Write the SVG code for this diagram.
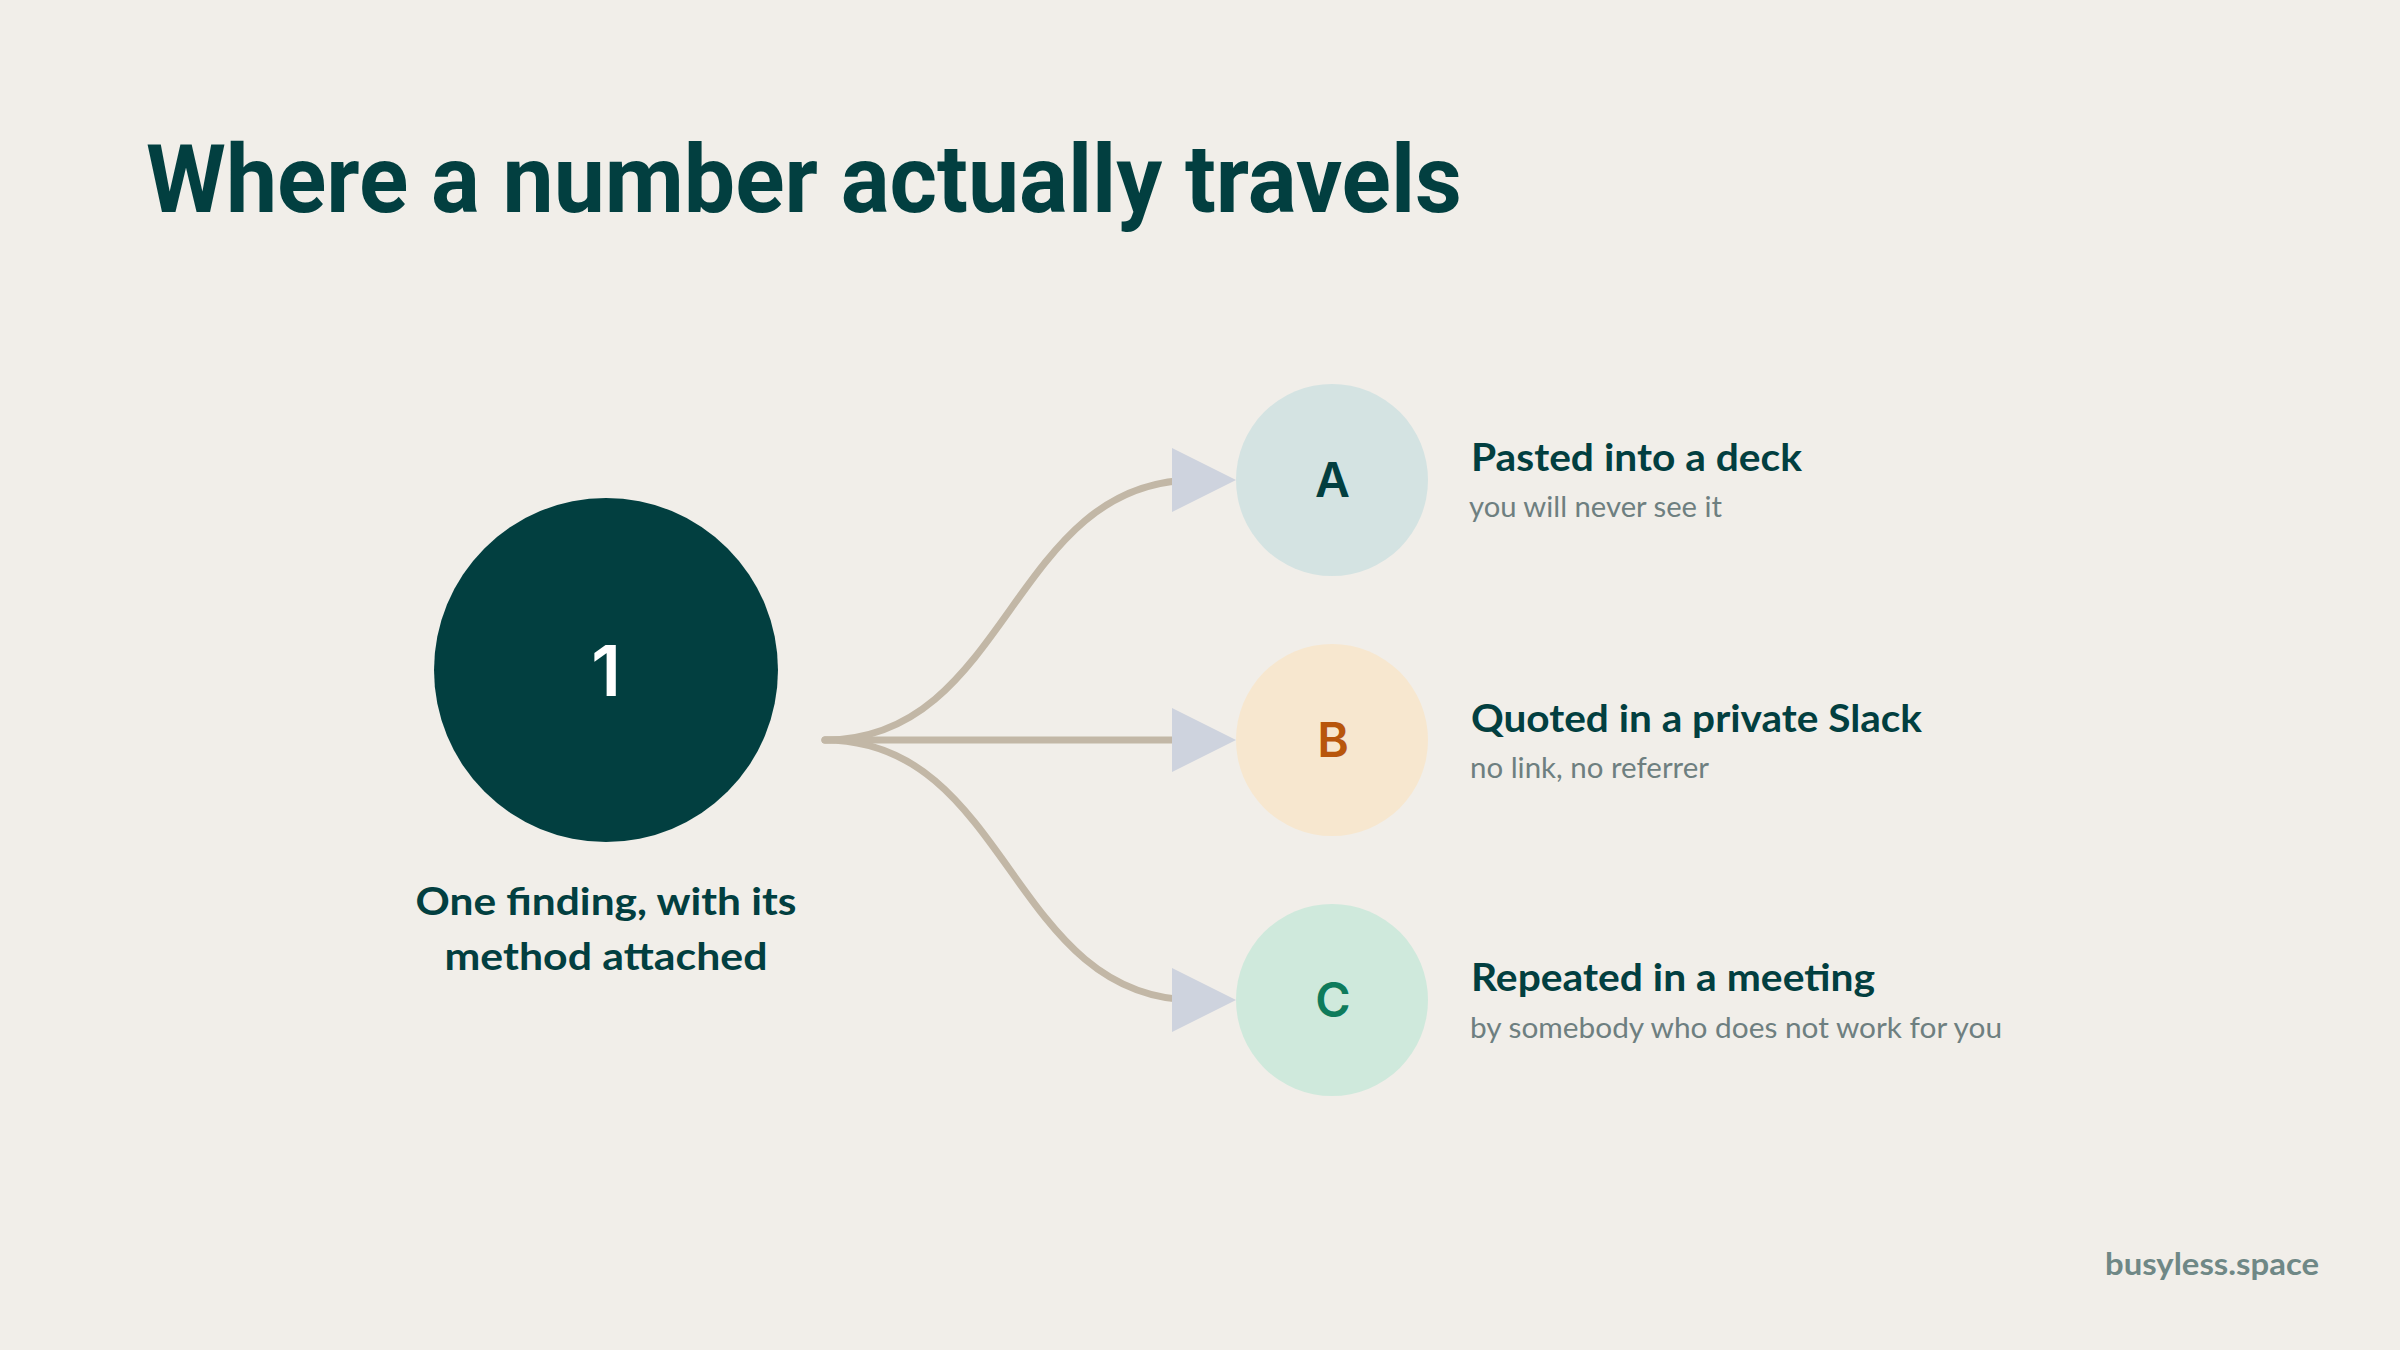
<svg xmlns="http://www.w3.org/2000/svg" width="2400" height="1350" viewBox="0 0 2400 1350">
  <style>
    .title { font-family: Roboto, "Liberation Sans", sans-serif; font-weight: 700; font-size: 94px; fill: #023F40; }
    .big { font-family: Inter, "Liberation Sans", sans-serif; font-weight: 600; font-size: 70px; fill: #FFFFFF; }
    .letter { font-family: Inter, "Liberation Sans", sans-serif; font-weight: 600; font-size: 48px; }
    .cap { font-family: Lato, "Liberation Sans", sans-serif; font-weight: 700; font-size: 38px; fill: #023F40; }
    .head { font-family: Lato, "Liberation Sans", sans-serif; font-weight: 700; font-size: 38px; fill: #023F40; }
    .sub { font-family: Lato, "Liberation Sans", sans-serif; font-weight: 400; font-size: 28px; fill: #6E7F80; }
    .foot { font-family: Lato, "Liberation Sans", sans-serif; font-weight: 700; font-size: 30px; fill: #6F8886; }
    .edge { fill: none; stroke: #C2B7A6; stroke-width: 7; stroke-linecap: round; }
    .arrow { fill: #CED3DE; }
  </style>
  <rect width="2400" height="1350" fill="#F1EEE9"/>

  <text class="title" x="146" y="212" textLength="1316" lengthAdjust="spacingAndGlyphs">Where a number actually travels</text>

  <g id="connectors">
    <path class="edge" d="M825,740 C1010,740 1010,480 1195,480"/>
    <path class="edge" d="M825,740 H1195"/>
    <path class="edge" d="M825,740 C1010,740 1010,1000 1195,1000"/>
    <polygon class="arrow" points="1172,448 1236,480 1172,512"/>
    <polygon class="arrow" points="1172,708 1236,740 1172,772"/>
    <polygon class="arrow" points="1172,968 1236,1000 1172,1032"/>
  </g>

  <g id="node-source">
    <circle cx="606" cy="670" r="172" fill="#023F40"/>
    <text class="big" x="606" y="696" text-anchor="middle">1</text>
    <text class="cap" x="606" y="915" text-anchor="middle" textLength="381" lengthAdjust="spacingAndGlyphs">One finding, with its</text>
    <text class="cap" x="606" y="970" text-anchor="middle" textLength="323" lengthAdjust="spacingAndGlyphs">method attached</text>
  </g>

  <g id="node-a">
    <circle cx="1332" cy="480" r="96" fill="#D4E3E2"/>
    <text class="letter" x="1332.5" y="497" text-anchor="middle" fill="#023F40">A</text>
    <text class="head" x="1471" y="471" textLength="331" lengthAdjust="spacingAndGlyphs">Pasted into a deck</text>
    <text class="sub" x="1469" y="517" textLength="253" lengthAdjust="spacingAndGlyphs">you will never see it</text>
  </g>

  <g id="node-b">
    <circle cx="1332" cy="740" r="96" fill="#F7E7CF"/>
    <text class="letter" x="1333" y="757" text-anchor="middle" fill="#B8560C">B</text>
    <text class="head" x="1471" y="732" textLength="451" lengthAdjust="spacingAndGlyphs">Quoted in a private Slack</text>
    <text class="sub" x="1470" y="778" textLength="239" lengthAdjust="spacingAndGlyphs">no link, no referrer</text>
  </g>

  <g id="node-c">
    <circle cx="1332" cy="1000" r="96" fill="#CFE9DC"/>
    <text class="letter" x="1333" y="1017" text-anchor="middle" fill="#0E7B5B">C</text>
    <text class="head" x="1471" y="991" textLength="404" lengthAdjust="spacingAndGlyphs">Repeated in a meeting</text>
    <text class="sub" x="1470" y="1038" textLength="532" lengthAdjust="spacingAndGlyphs">by somebody who does not work for you</text>
  </g>

  <text class="foot" x="2319" y="1275" text-anchor="end" textLength="214" lengthAdjust="spacingAndGlyphs">busyless.space</text>
</svg>
